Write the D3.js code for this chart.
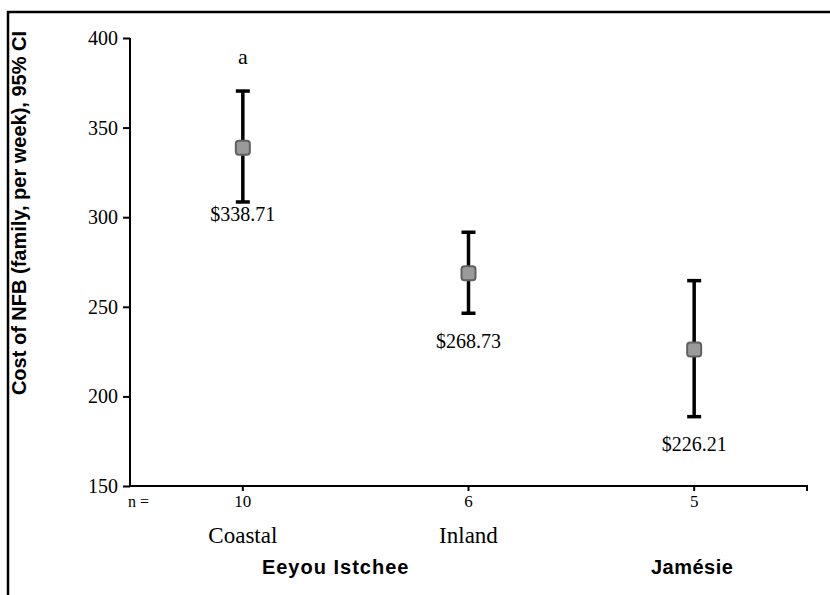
<!DOCTYPE html>
<html>
<head>
<meta charset="utf-8">
<script src="https://cdn.jsdelivr.net/npm/d3@7/dist/d3.min.js"></script>
<style>
  html, body { margin: 0; padding: 0; background: #fff; }
  svg { display: block; }
</style>
</head>
<body>
<svg id="chart" width="830" height="595"></svg>
<script>
// Weekly cost of the Nutritious Food Basket by region, with 95% CI
const categories = ["Coastal", "Inland", "Jamésie"];
const means      = [338.71, 268.73, 226.21];
const ciLower    = [308.5, 246.4, 188.7];
const ciUpper    = [370.4, 291.6, 264.6];
const sampleN    = ["10", "6", "5"];
const valueText  = ["$338.71", "$268.73", "$226.21"];
const yTicks     = [150, 200, 250, 300, 350, 400];
const groups     = [
  { name: "Eeyou Istchee", members: ["Coastal", "Inland"] },
  { name: "Jamésie",       members: ["Jamésie"] }
];
const sigLetters = ["a", "", ""];

const svg = d3.select("#chart");
const serif = "'Liberation Serif', 'Times New Roman', serif";
const sans  = "'Liberation Sans', Arial, sans-serif";

const plot = { left: 130, right: 807, top: 38, bottom: 486 };

const x = d3.scaleBand().domain(categories).range([plot.left, plot.right]);
const y = d3.scaleLinear().domain([150, 400]).range([plot.bottom, plot.top]);
const cx = c => x(c) + x.bandwidth() / 2;

// outer frame
svg.append("rect")
  .attr("x", 8).attr("y", 12).attr("width", 840).attr("height", 600)
  .attr("fill", "none").attr("stroke", "#000").attr("stroke-width", 2.5);

// y axis
const yAxis = svg.append("g")
  .attr("transform", `translate(${plot.left},0)`)
  .call(d3.axisLeft(y).tickValues(yTicks).tickSize(7).tickPadding(5).tickFormat(d3.format("d")));
yAxis.select(".domain").attr("stroke-width", 2).attr("d", `M0,${plot.top}V${plot.bottom}`);
yAxis.selectAll(".tick line").attr("stroke-width", 2);
yAxis.selectAll(".tick text")
  .attr("font-family", serif).attr("font-size", 20).attr("fill", "#000");

// x axis: ticks at category centres plus the closing tick at the right end
svg.append("line")
  .attr("x1", plot.left - 1).attr("x2", plot.right + 1)
  .attr("y1", plot.bottom).attr("y2", plot.bottom)
  .attr("stroke", "#000").attr("stroke-width", 2);
const xTickPos = categories.map(cx).concat([plot.right]);
svg.selectAll(".xtick").data(xTickPos).join("line")
  .attr("class", "xtick")
  .attr("x1", d => d).attr("x2", d => d)
  .attr("y1", plot.bottom).attr("y2", plot.bottom + 5)
  .attr("stroke", "#000").attr("stroke-width", 2);

// sample sizes
svg.append("text")
  .attr("x", plot.left - 2).attr("y", 507)
  .attr("font-family", serif).attr("font-size", 16)
  .text("n =");
svg.selectAll(".ntext").data(categories).join("text")
  .attr("class", "ntext")
  .attr("x", d => cx(d)).attr("y", 507)
  .attr("text-anchor", "middle")
  .attr("font-family", serif).attr("font-size", 17)
  .text((d, i) => sampleN[i]);

// category names
svg.selectAll(".cat").data(categories.slice(0, 2)).join("text")
  .attr("class", "cat")
  .attr("x", d => cx(d)).attr("y", 543)
  .attr("text-anchor", "middle")
  .attr("font-family", serif).attr("font-size", 23)
  .text(d => d);

// group names
const groupShift = [-20, -2];
svg.selectAll(".grp").data(groups).join("text")
  .attr("class", "grp")
  .attr("x", (g, i) => d3.mean(g.members, cx) + groupShift[i])
  .attr("y", 574)
  .attr("text-anchor", "middle")
  .attr("font-family", sans).attr("font-weight", "bold").attr("font-size", 20)
  .attr("letter-spacing", (g, i) => i === 0 ? 1 : 0.5)
  .text(g => g.name);

// y axis title
svg.append("text")
  .attr("transform", `translate(26,213) rotate(-90)`)
  .attr("text-anchor", "middle")
  .attr("font-family", sans).attr("font-weight", "bold").attr("font-size", 20)
  .text("Cost of NFB (family, per week), 95% CI");

// error bars
const capHalf = 7;
const bars = svg.selectAll(".ci").data(categories).join("g").attr("class", "ci");
bars.append("line")
  .attr("x1", d => cx(d)).attr("x2", d => cx(d))
  .attr("y1", (d, i) => y(ciUpper[i])).attr("y2", (d, i) => y(ciLower[i]))
  .attr("stroke", "#000").attr("stroke-width", 3.5);
bars.append("line")
  .attr("x1", d => cx(d) - capHalf).attr("x2", d => cx(d) + capHalf)
  .attr("y1", (d, i) => y(ciUpper[i])).attr("y2", (d, i) => y(ciUpper[i]))
  .attr("stroke", "#000").attr("stroke-width", 3.5);
bars.append("line")
  .attr("x1", d => cx(d) - capHalf).attr("x2", d => cx(d) + capHalf)
  .attr("y1", (d, i) => y(ciLower[i])).attr("y2", (d, i) => y(ciLower[i]))
  .attr("stroke", "#000").attr("stroke-width", 3.5);

// mean markers
const m = 14;
svg.selectAll(".mean").data(categories).join("rect")
  .attr("class", "mean")
  .attr("x", d => cx(d) - m / 2).attr("y", (d, i) => y(means[i]) - m / 2)
  .attr("width", m).attr("height", m).attr("rx", 3)
  .attr("fill", "#9a9a9a").attr("stroke", "#616161").attr("stroke-width", 2);

// value labels beneath each interval
const labelGap = [19, 35, 34];
svg.selectAll(".val").data(categories).join("text")
  .attr("class", "val")
  .attr("x", d => cx(d))
  .attr("y", (d, i) => y(ciLower[i]) + labelGap[i])
  .attr("text-anchor", "middle")
  .attr("font-family", serif).attr("font-size", 20)
  .text((d, i) => valueText[i]);

// significance letters
svg.selectAll(".sig").data(categories).join("text")
  .attr("class", "sig")
  .attr("x", d => cx(d)).attr("y", 64)
  .attr("text-anchor", "middle")
  .attr("font-family", serif).attr("font-size", 22)
  .text((d, i) => sigLetters[i]);
</script>
</body>
</html>
